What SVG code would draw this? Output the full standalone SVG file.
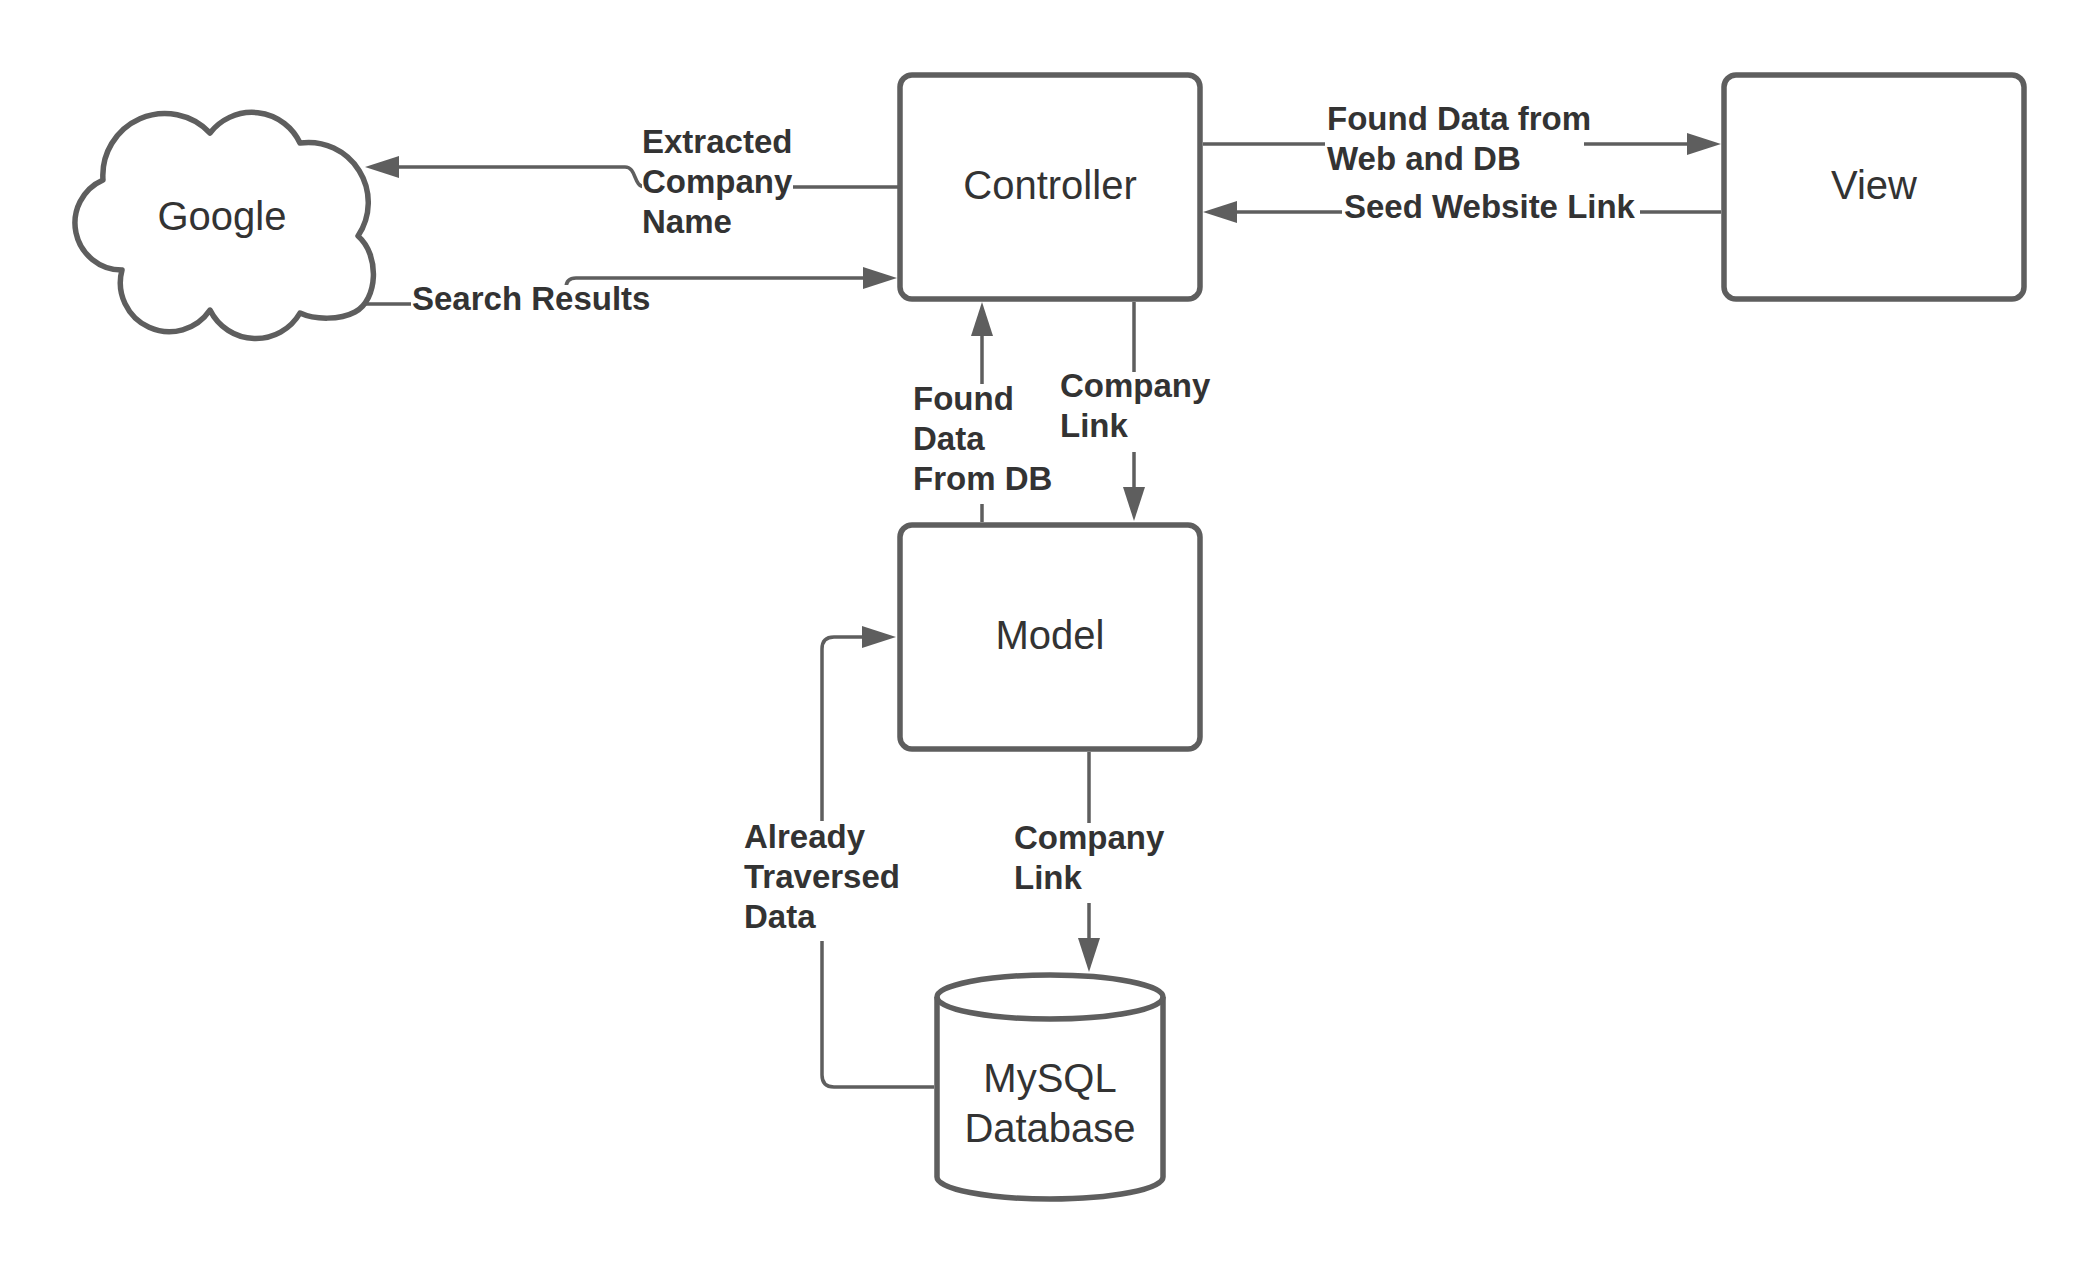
<svg xmlns="http://www.w3.org/2000/svg" width="2100" height="1275" viewBox="0 0 2100 1275">
  <defs>
    <marker id="arrow" viewBox="0 0 34 22" refX="14" refY="11" markerWidth="34" markerHeight="22" markerUnits="userSpaceOnUse" orient="auto">
      <path d="M0,0 L34,11 L0,22 z" fill="#5e5e5e"/>
    </marker>
  </defs>
  <style>
    .shape { fill: #ffffff; stroke: #5e5e5e; stroke-width: 5.5; stroke-linejoin: round; }
    .node-text { font-family: "Liberation Sans", Arial, sans-serif; font-size: 40px; fill: #333333; text-anchor: middle; }
    .conn { fill: none; stroke: #5e5e5e; stroke-width: 3.5; marker-end: url(#arrow); }
    .lbl-bg { fill: #ffffff; stroke: none; }
    .lbl { font-family: "Liberation Sans", Arial, sans-serif; font-size: 33px; font-weight: bold; fill: #333333; }
  </style>
  <rect width="2100" height="1275" fill="#ffffff"/>

  <g id="node-google">
    <path class="shape" d="M103,180 A62,62 0 0 1 210,133 A53,53 0 0 1 300,143 A60,60 0 0 1 358,236 C380,255 378,300 355,312 C340,320 315,320 300,313 A51,51 0 0 1 210,310 A49,49 0 0 1 122,270 A47,47 0 0 1 103,180 Z"/>
    <text class="node-text" x="222" y="230">Google</text>
  </g>

  <g id="node-controller">
    <rect class="shape" x="900" y="75" width="300" height="224" rx="12"/>
    <text class="node-text" x="1050" y="199">Controller</text>
  </g>

  <g id="node-view">
    <rect class="shape" x="1724" y="75" width="300" height="224" rx="12"/>
    <text class="node-text" x="1874" y="199">View</text>
  </g>

  <g id="node-model">
    <rect class="shape" x="900" y="525" width="300" height="224" rx="12"/>
    <text class="node-text" x="1050" y="649">Model</text>
  </g>

  <g id="node-database">
    <path class="shape" d="M937,997 A113,22 0 0 1 1163,997 V1177 A113,22 0 0 1 937,1177 Z"/>
    <path class="shape" style="fill:none" d="M937,997 A113,22 0 0 0 1163,997"/>
    <text class="node-text" x="1050" y="1092">MySQL</text>
    <text class="node-text" x="1050" y="1142">Database</text>
  </g>

  <g id="connectors">
    <g id="conn-extracted">
      <path class="conn" d="M900,187 H645 C633,187 637,167 625,167 H385"/>
      <rect class="lbl-bg" x="642" y="124" width="151" height="118"/>
      <text class="lbl" x="642" y="153">Extracted</text>
      <text class="lbl" x="642" y="193">Company</text>
      <text class="lbl" x="642" y="233">Name</text>
    </g>
    <g id="conn-search">
      <path class="conn" d="M363,304 H556 Q566,304 566,294 V288 Q566,278 576,278 H877"/>
      <rect class="lbl-bg" x="411" y="285" width="241" height="34"/>
      <text class="lbl" x="412" y="310">Search Results</text>
    </g>
    <g id="conn-found-web">
      <path class="conn" d="M1203,144 H1701"/>
      <rect class="lbl-bg" x="1325" y="104" width="259" height="76"/>
      <text class="lbl" x="1327" y="130">Found Data from</text>
      <text class="lbl" x="1327" y="170">Web and DB</text>
    </g>
    <g id="conn-seed">
      <path class="conn" d="M1721,212 H1223"/>
      <rect class="lbl-bg" x="1342" y="190" width="298" height="36"/>
      <text class="lbl" x="1344" y="218">Seed Website Link</text>
    </g>
    <g id="conn-found-db">
      <path class="conn" d="M982,522 V322"/>
      <rect class="lbl-bg" x="912" y="384" width="142" height="120"/>
      <text class="lbl" x="913" y="410">Found</text>
      <text class="lbl" x="913" y="450">Data</text>
      <text class="lbl" x="913" y="490">From DB</text>
    </g>
    <g id="conn-company-link-1">
      <path class="conn" d="M1134,302 V501"/>
      <rect class="lbl-bg" x="1059" y="372" width="152" height="80"/>
      <text class="lbl" x="1060" y="397">Company</text>
      <text class="lbl" x="1060" y="437">Link</text>
    </g>
    <g id="conn-company-link-2">
      <path class="conn" d="M1089,752 V952"/>
      <rect class="lbl-bg" x="1013" y="823" width="152" height="80"/>
      <text class="lbl" x="1014" y="849">Company</text>
      <text class="lbl" x="1014" y="889">Link</text>
    </g>
    <g id="conn-already">
      <path class="conn" d="M934,1087 H834 Q822,1087 822,1075 V649 Q822,637 834,637 H876"/>
      <rect class="lbl-bg" x="742" y="821" width="161" height="120"/>
      <text class="lbl" x="744" y="848">Already</text>
      <text class="lbl" x="744" y="888">Traversed</text>
      <text class="lbl" x="744" y="928">Data</text>
    </g>
  </g>
</svg>
